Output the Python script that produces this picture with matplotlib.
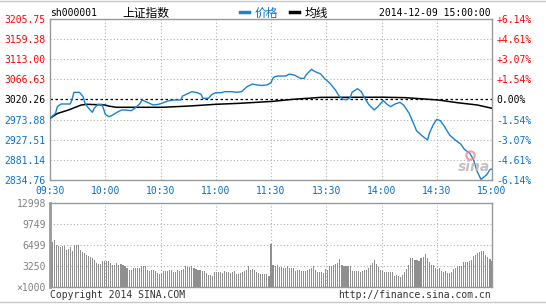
import numpy as np
import matplotlib
matplotlib.use("Agg")
import matplotlib.pyplot as plt
from matplotlib.lines import Line2D

# ---------------- data ----------------
price_labels = ["3205.75", "3159.38", "3113.00", "3066.63", "3020.26",
                "2973.88", "2927.51", "2881.14", "2834.76"]
pct_labels = ["+6.14%", "+4.61%", "+3.07%", "+1.54%", "0.00%",
              "-1.54%", "-3.07%", "-4.61%", "-6.14%"]
prev_close = 3020.26
time_labels = ["09:30", "10:00", "10:30", "11:00", "11:30",
               "13:30", "14:00", "14:30", "15:00"]
time_ticks = [0, 30, 60, 90, 120, 150, 180, 210, 240]

# price line: minute index from open, price
price_min = [0, 3, 4, 6, 11, 12, 13, 16, 18, 19, 21, 23, 24, 26, 28, 29, 30, 32, 34, 37,
             39, 41, 44, 46, 49, 50, 52, 54, 56, 59, 61, 64, 67, 71, 72, 74, 77, 80, 82, 83,
             86, 88, 90, 93, 95, 99, 101, 104, 107, 110, 112, 115, 118, 120, 121, 122, 124, 128, 130, 133,
             136, 138, 139, 142, 144, 147, 149, 152, 155, 157, 159, 161, 163, 164, 167, 169, 171, 173, 176, 178,
             181, 183, 185, 187, 190, 192, 195, 197, 199, 202, 205, 206, 208, 210, 212, 214, 217, 220, 223, 225,
             228, 230, 232, 234, 237, 239, 240]
price_val = [2976.9, 2988.4, 3003.7, 3009.9, 3009.9, 3020.7, 3036.8, 3036.8, 3026.7, 3011.5,
             3000.0, 2990.8, 3000.0, 3009.2, 3009.2, 3000.0, 2986.1, 2980.6, 2984.5, 2992.2,
             2996.1, 2996.1, 2994.5, 3000.0, 3011.5, 3019.1, 3015.3, 3011.5, 3007.6, 3009.2,
             3012.0, 3016.8, 3019.1, 3019.1, 3028.3, 3032.2, 3038.3, 3036.0, 3032.2, 3023.0,
             3023.0, 3032.2, 3036.0, 3036.0, 3038.3, 3038.3, 3036.8, 3038.3, 3049.8, 3056.0,
             3054.0, 3052.5, 3054.0, 3059.0, 3069.0, 3072.8, 3074.4, 3074.4, 3079.0, 3076.0,
             3069.0, 3069.0, 3076.7, 3089.8, 3084.3, 3079.0, 3069.0, 3057.6, 3042.1, 3028.3,
             3020.7, 3020.0, 3024.4, 3036.8, 3045.2, 3038.3, 3023.0, 3009.2, 2996.1, 3003.7,
             3018.0, 3009.2, 3003.7, 3009.2, 3013.7, 3007.6, 2988.4, 2969.1, 2948.4, 2936.8,
             2926.9, 2942.4, 2961.5, 2974.6, 2971.4, 2959.2, 2938.4, 2926.9, 2917.7, 2905.5,
             2896.2, 2880.8, 2853.9, 2836.4, 2846.3, 2859.4, 2859.4]

# average line
avg_min = [0, 4, 10, 13, 17, 20, 30, 32, 36, 61, 76, 90, 103, 112, 121, 132, 140, 147,
           181, 193, 211, 221, 232, 240]
avg_val = [2977.0, 2988.0, 2996.0, 3001.0, 3007.6, 3009.2, 3007.6, 3005.0, 3002.3, 3002.3,
           3005.3, 3009.2, 3011.5, 3013.7, 3016.0, 3020.7, 3023.0, 3025.2, 3025.5, 3024.5,
           3019.0, 3013.0, 3007.6, 3000.0]

# volume (x1000)
vol_am = [7.48, 6.91, 7.22, 6.55, 6.40, 6.14, 6.40, 6.40, 5.78, 5.93, 6.14, 5.62, 6.55, 6.55,
          6.55, 5.78, 5.36, 5.26, 4.90, 4.75, 4.59, 4.49, 4.18, 3.77, 3.61, 3.51, 3.97, 4.02,
          4.02, 4.02, 3.77, 3.35, 3.35, 3.77, 3.40, 3.61, 3.35, 3.20, 2.94, 2.68, 2.58, 2.94,
          2.94, 2.94, 2.94, 3.20, 3.20, 3.20, 2.68, 2.53, 2.63, 2.58, 2.53, 2.17, 2.06, 2.22,
          2.42, 2.42, 2.53, 2.58, 2.63, 2.32, 2.27, 2.58, 2.53, 2.68, 2.84, 3.20, 3.04, 3.04,
          3.20, 2.94, 2.79, 2.68, 2.58, 2.53, 2.48, 2.22, 1.91, 1.91, 1.75, 2.32, 2.27, 2.37,
          2.27, 2.22, 2.48, 2.27, 2.32, 2.17, 2.27, 2.53, 1.96, 2.01, 2.12, 2.27, 2.42, 2.68,
          3.20, 2.68, 2.79, 2.68, 2.37, 2.17, 2.06, 2.06, 2.06, 2.06, 1.75, 6.65]
vol_pm = [3.35, 3.20, 3.35, 3.04, 3.04, 2.94, 2.94, 3.20, 2.94, 2.94, 2.94, 2.53, 2.68, 2.68,
          2.53, 2.42, 2.53, 2.68, 2.84, 2.94, 3.20, 2.68, 2.32, 2.27, 2.27, 2.17, 2.84, 2.68,
          3.20, 3.20, 3.46, 3.61, 3.71, 4.33, 3.46, 3.30, 3.30, 3.30, 3.20, 2.53, 2.42, 2.42,
          2.42, 2.27, 2.42, 2.58, 2.68, 2.89, 3.46, 3.71, 4.23, 3.61, 3.04, 2.68, 2.53, 2.27,
          2.27, 2.27, 2.27, 2.37, 1.75, 1.86, 1.75, 1.55, 1.91, 2.27, 2.84, 3.40, 4.49, 4.49,
          4.23, 4.23, 3.97, 4.44, 4.64, 5.11, 4.49, 3.92, 3.40, 3.40, 2.94, 2.84, 2.89, 2.53,
          2.27, 2.53, 2.17, 2.17, 2.27, 2.73, 2.94, 3.25, 3.25, 3.25, 3.82, 3.92, 3.82, 4.07,
          4.23, 4.85, 5.00, 5.26, 5.36, 5.52, 5.62, 5.00, 4.64, 4.33, 3.97]
vol_ticks = [0, 3.250, 6.499, 9.749, 12.998]
vol_labels = ["\u00d71000", "3250", "6499", "9749", "12998"]

# ---------------- style ----------------
RED = "#ff0000"
BLUE = "#0a70c8"
LINEBLUE = "#1a82d2"
GRID = "#b0b0b0"
SPINE = "#999999"
MONO = "DejaVu Sans Mono"
CJK = ["Noto Sans CJK SC", "DejaVu Sans"]
FS = 7

W, H = 546, 304
fig = plt.figure(figsize=(W / 100, H / 100), dpi=100)
fig.patch.set_facecolor("white")

def fx(px):
    return px / W

def fy(py):
    return 1 - py / H

L, R = 50, 492
ax = fig.add_axes([fx(L), fy(180), fx(R - L), fy(19) - fy(180)])
axv = fig.add_axes([fx(L), fy(287), fx(R - L), fy(203) - fy(287)])

price_levels = [float(s) for s in price_labels]
ymin, ymax = min(price_levels), max(price_levels)

for a in (ax, axv):
    a.set_xlim(0, 240)
    for s in a.spines.values():
        s.set_color(SPINE)
        s.set_linewidth(1)
    a.tick_params(length=0)
    for t in time_ticks[1:-1]:
        a.axvline(t, color=GRID, lw=0.8, ls=(0, (1, 2)), zorder=0)

ax.set_ylim(ymin, ymax)
for lv in price_levels[1:-1]:
    if abs(lv - prev_close) > 1e-6:
        ax.axhline(lv, color=GRID, lw=0.8, ls=(0, (1, 2)), zorder=0)
ax.axhline(prev_close, color="black", lw=0.9, ls=(0, (2, 2)), zorder=1)

ax.plot(avg_min, avg_val, color="black", lw=1.1, zorder=3)
ax.plot(price_min, price_val, color=LINEBLUE, lw=1.0, zorder=4)

ax.set_yticks(price_levels)
ax.set_yticklabels(price_labels, fontfamily=MONO, fontsize=FS)
ax.tick_params(axis="y", pad=3)
for lab, lv in zip(ax.get_yticklabels(), price_levels):
    lab.set_color(RED if lv > prev_close + 1e-6 else ("black" if abs(lv - prev_close) < 1e-6 else BLUE))

ax.set_xticks(time_ticks)
ax.set_xticklabels(time_labels, fontfamily=MONO, fontsize=FS, color=BLUE)
ax.tick_params(axis="x", pad=4)

axr = ax.twinx()
axr.set_ylim(ymin, ymax)
axr.set_yticks(price_levels)
axr.set_yticklabels(pct_labels, fontfamily=MONO, fontsize=FS)
axr.tick_params(length=0, pad=3)
for s in axr.spines.values():
    s.set_visible(False)
for lab, txt in zip(axr.get_yticklabels(), pct_labels):
    lab.set_color(RED if txt.startswith("+") else (BLUE if txt.startswith("-") else "black"))

# volume
vol = vol_am + vol_pm
vx = np.linspace(0, 240, len(vol))
axv.bar(vx, vol, width=0.6, color="#8f8f8f", linewidth=0, zorder=2, antialiased=False)
axv.set_ylim(0, vol_ticks[-1])
for t in vol_ticks[1:-1]:
    axv.axhline(t, color=GRID, lw=0.8, ls=(0, (1, 2)), zorder=1)
axv.set_yticks(vol_ticks)
axv.set_yticklabels(vol_labels, fontfamily=MONO, fontsize=FS, color="#808080")
axv.tick_params(axis="y", pad=3)
axv.set_xticks([])
axv.spines["left"].set_linewidth(2)

# header
fig.text(fx(50), fy(13), "sh000001", fontfamily=MONO, fontsize=FS, color="black", va="center")
fig.text(fx(122), fy(13), "上证指数", fontfamily=CJK, fontsize=8.5, color="black", va="center")
fig.add_artist(Line2D([fx(240), fx(249)], [fy(12), fy(12)], color=LINEBLUE, lw=2.5))
fig.text(fx(255), fy(13), "价格", fontfamily=CJK, fontsize=8.5, color=BLUE, va="center")
fig.add_artist(Line2D([fx(290), fx(299)], [fy(12), fy(12)], color="black", lw=2.5))
fig.text(fx(305), fy(13), "均线", fontfamily=CJK, fontsize=8.5, color="black", va="center")
fig.text(fx(491), fy(13), "2014-12-09 15:00:00", fontfamily=MONO, fontsize=FS,
         color="black", va="center", ha="right")

# footer
fig.text(fx(50), fy(295), "Copyright 2014 SINA.COM", fontfamily=MONO, fontsize=FS,
         color="#333333", va="center")
fig.text(fx(491), fy(295), "http://finance.sina.com.cn", fontfamily=MONO, fontsize=FS,
         color="#333333", va="center", ha="right")

# watermark
fig.text(fx(474), fy(167), "sina", fontfamily="DejaVu Sans", fontsize=10, fontweight="bold",
         fontstyle="italic", color="#b8b8b8", alpha=0.85, ha="center", va="center")
fig.add_artist(Line2D([fx(470)], [fy(155)], marker="o", markersize=6, markerfacecolor="none",
                      markeredgecolor="#f08a8a", markeredgewidth=1.5, alpha=0.8, linestyle="none"))

# frame lines
fig.add_artist(Line2D([0, 1], [fy(1), fy(1)], color="#c8c8c8", lw=1))
fig.add_artist(Line2D([0, 1], [fy(302), fy(302)], color="#c8c8c8", lw=1))

fig.savefig("out.png", dpi=100, facecolor="white")
